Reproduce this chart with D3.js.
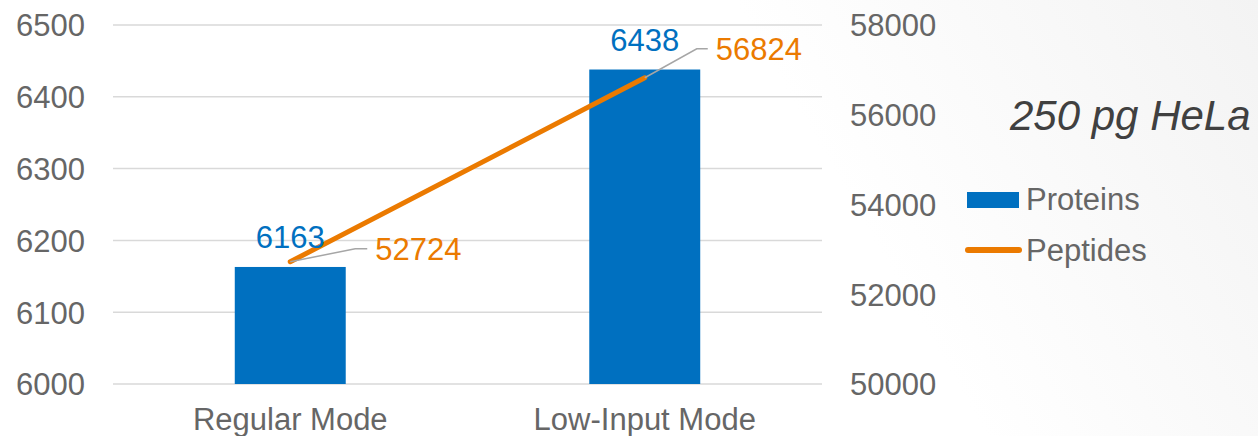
<!DOCTYPE html>
<html>
<head>
<meta charset="utf-8">
<script src="https://cdn.jsdelivr.net/npm/d3@7"></script>
<style>
  html, body { margin: 0; padding: 0; background: #fff; }
  svg { display: block; font-family: "Liberation Sans", Arial, sans-serif; }
</style>
</head>
<body>
<svg id="chart" width="1258" height="436"></svg>
<script>
// chart data
const categories = ['Regular Mode', 'Low-Input Mode'];
const proteins = [6163, 6438];
const peptides = [52724, 56824];
const leftTicks = [6000, 6100, 6200, 6300, 6400, 6500];
const rightTicks = [50000, 52000, 54000, 56000, 58000];
const title = '250 pg HeLa';

const W = 1258, H = 436;
const margin = { top: 25, left: 113, right: 436, bottom: 52 };
const plotW = W - margin.left - margin.right;
const plotH = H - margin.top - margin.bottom;

const blue = '#0070C0', orange = '#EB7A00', gray = '#666666';
const numSize = '31px';

const svg = d3.select('#chart');

// slide-like background
const defs = svg.append('defs');
const grad = defs.append('linearGradient').attr('id', 'bg').attr('x1', 0).attr('x2', 1).attr('y1', 0.2).attr('y2', 0);
grad.append('stop').attr('offset', '0.6').attr('stop-color', '#ffffff');
grad.append('stop').attr('offset', '1').attr('stop-color', '#f3f3f3');
svg.append('rect').attr('width', W).attr('height', H).attr('fill', 'url(#bg)');

const g = svg.append('g').attr('transform', `translate(${margin.left},${margin.top})`);

const x = d3.scaleBand().domain(categories).range([0, plotW]).padding(0);
const yL = d3.scaleLinear().domain([6000, 6500]).range([plotH, 0]);
const yR = d3.scaleLinear().domain([50000, 58000]).range([plotH, 0]);

// gridlines
g.append('g')
  .selectAll('line')
  .data(leftTicks)
  .join('line')
  .attr('x1', 0).attr('x2', plotW)
  .attr('y1', d => yL(d)).attr('y2', d => yL(d))
  .attr('stroke', '#d9d9d9').attr('stroke-width', 1.5);

// left axis
const axL = g.append('g').call(d3.axisLeft(yL).tickValues(leftTicks).tickFormat(d3.format('d')).tickSize(0).tickPadding(28));
axL.select('.domain').remove();
axL.selectAll('text').attr('fill', gray).style('font-size', numSize).attr('dy', '0.35em')
  .style('font-family', '"Liberation Sans", Arial, sans-serif');

// right axis
const axR = g.append('g').attr('transform', `translate(${plotW},0)`)
  .call(d3.axisRight(yR).tickValues(rightTicks).tickFormat(d3.format('d')).tickSize(0).tickPadding(28));
axR.select('.domain').remove();
axR.selectAll('text').attr('fill', gray).style('font-size', numSize).attr('dy', '0.35em')
  .style('font-family', '"Liberation Sans", Arial, sans-serif');

// bottom axis labels
const axB = g.append('g').attr('transform', `translate(0,${plotH})`)
  .call(d3.axisBottom(x).tickSize(0).tickPadding(24));
axB.select('.domain').remove();
axB.selectAll('text').attr('fill', gray).style('font-size', '31px')
  .style('font-family', '"Liberation Sans", Arial, sans-serif');

// bars
const barW = x.bandwidth() * 0.313;
g.selectAll('.bar')
  .data(proteins)
  .join('rect')
  .attr('class', 'bar')
  .attr('x', (d, i) => x(categories[i]) + x.bandwidth() / 2 - barW / 2)
  .attr('y', d => yL(d))
  .attr('width', barW)
  .attr('height', d => plotH - yL(d))
  .attr('fill', blue);

// peptide line
const cx = i => x(categories[i]) + x.bandwidth() / 2;
g.append('path')
  .datum(peptides)
  .attr('d', d3.line().x((d, i) => cx(i)).y(d => yR(d)))
  .attr('fill', 'none').attr('stroke', orange).attr('stroke-width', 5).attr('stroke-linecap', 'round');

// protein value labels
g.selectAll('.plabel')
  .data(proteins)
  .join('text')
  .attr('class', 'plabel')
  .attr('x', (d, i) => cx(i))
  .attr('y', d => yL(d) - 19)
  .attr('text-anchor', 'middle')
  .attr('fill', blue).style('font-size', numSize)
  .text(d => d);

// peptide value labels with leader lines
const lead = [[65, -13, 12], [52, -29, 11]];
peptides.forEach((v, i) => {
  const px = cx(i), py = yR(v);
  const [dx, dy, h] = lead[i];
  g.append('path')
    .attr('d', `M${px},${py}L${px + dx},${py + dy}H${px + dx + h}`)
    .attr('fill', 'none').attr('stroke', '#a6a6a6').attr('stroke-width', 1.5);
  g.append('text')
    .attr('x', px + dx + h + 8)
    .attr('y', py + dy + 11)
    .attr('fill', orange).style('font-size', numSize)
    .text(v);
});

// title
svg.append('text')
  .attr('x', 1010).attr('y', 130)
  .attr('fill', '#404040').style('font-size', '42px').style('font-style', 'italic')
  .text(title);

// legend
const leg = svg.append('g');
leg.append('rect').attr('x', 967).attr('y', 192).attr('width', 52).attr('height', 16).attr('fill', blue);
leg.append('text').attr('x', 1026).attr('y', 210).attr('fill', gray).style('font-size', '31px').text('Proteins');
leg.append('line').attr('x1', 968).attr('x2', 1019).attr('y1', 250).attr('y2', 250)
  .attr('stroke', orange).attr('stroke-width', 6).attr('stroke-linecap', 'round');
leg.append('text').attr('x', 1026).attr('y', 261).attr('fill', gray).style('font-size', '31px').text('Peptides');
</script>
</body>
</html>
